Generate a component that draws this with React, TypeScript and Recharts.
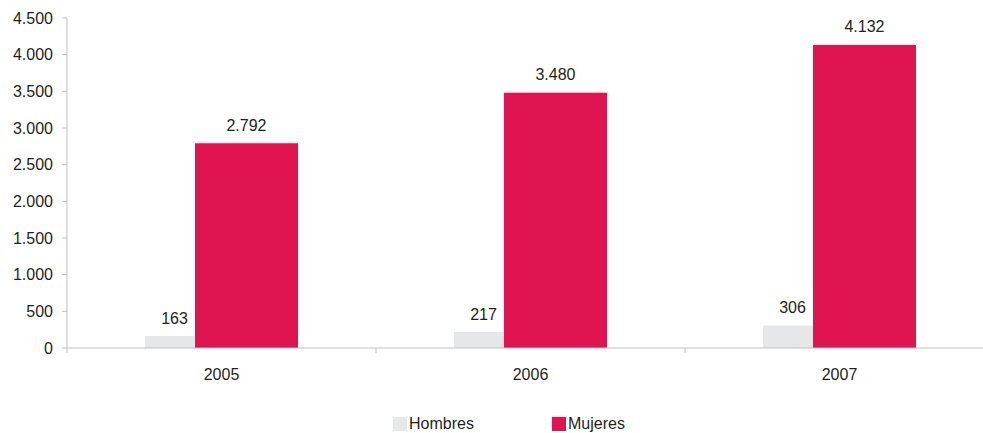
import { Bar, BarChart, LabelList, Legend, XAxis, YAxis } from "recharts";

const years = ["2005", "2006", "2007"];
const hombres = [163, 217, 306];
const mujeres = [2792, 3480, 4132];
const yTicks = [0, 500, 1000, 1500, 2000, 2500, 3000, 3500, 4000, 4500];

const COLORS = { hombres: "#E6E7E8", mujeres: "#E01450" };
const AXIS = "#BFBFBF";
const TEXT = "#231F20";
const FONT = "'Liberation Sans', Arial, sans-serif";

const data = years.map((year, i) => ({ year, Hombres: hombres[i], Mujeres: mujeres[i] }));

const fmt = (v: number) => String(v).replace(/\B(?=(\d{3})+(?!\d))/g, ".");

// x ticks sit on the category boundaries, labels in the middle
const YearTick = (props: any) => {
    const { x, y, payload } = props;
    const half = payload && payload.offset ? payload.offset : 0;
    const axisY = y - 26;
    return (
        <g>
            <line x1={x - half} x2={x - half} y1={axisY} y2={axisY + 5} stroke={AXIS} />
            <text x={x} y={y} textAnchor="middle" dominantBaseline="central" fill={TEXT} fontSize={16} fontFamily={FONT}>
                {payload.value}
            </text>
        </g>
    );
};

const hombresLabel = (props: any) => {
    const { x, y, width, value } = props;
    return (
        <text x={x + width / 2 - 22} y={y - 18} textAnchor="middle" dominantBaseline="central" fill={TEXT} fontSize={16} fontFamily={FONT}>
            {fmt(value)}
        </text>
    );
};

const mujeresLabel = (props: any) => {
    const { x, y, width, value } = props;
    return (
        <text x={x + width / 2} y={y - 18} textAnchor="middle" dominantBaseline="central" fill={TEXT} fontSize={16} fontFamily={FONT}>
            {fmt(value)}
        </text>
    );
};

const LegendBox = () => (
    <div style={{ position: "relative", height: 18, fontFamily: FONT, fontSize: 16, color: TEXT }}>
        {[
            { name: "Hombres", color: COLORS.hombres, left: 393 },
            { name: "Mujeres", color: COLORS.mujeres, left: 552 },
        ].map((item) => (
            <div key={item.name} style={{ position: "absolute", left: item.left, top: 0, display: "flex", alignItems: "center" }}>
                <span style={{ display: "inline-block", width: 14, height: 14, background: item.color, marginRight: 2 }} />
                <span style={{ lineHeight: "18px" }}>{item.name}</span>
            </div>
        ))}
    </div>
);

const App = () => {
    return (
        <div style={{ width: 983, height: 433, overflow: "hidden" }}>
            <style>{`body{margin:0}`}</style>
            <BarChart
                width={994}
                height={433}
                data={data}
                margin={{ top: 18, right: 0, left: 0, bottom: 0 }}
                barSize={103}
                barGap={-53}
            >
                <XAxis
                    dataKey="year"
                    height={67}
                    stroke={AXIS}
                    tickLine={false}
                    tickSize={0}
                    tickMargin={26}
                    tick={<YearTick />}
                />
                <YAxis
                    width={67}
                    domain={[0, 4500]}
                    ticks={yTicks}
                    interval={0}
                    stroke={AXIS}
                    tickSize={5}
                    tickMargin={9}
                    tickFormatter={fmt}
                    tick={{ fill: TEXT, fontSize: 16, fontFamily: FONT }}
                />
                <Legend verticalAlign="bottom" content={<LegendBox />} wrapperStyle={{ left: 0, width: 994 }} />
                <Bar dataKey="Hombres" fill={COLORS.hombres} isAnimationActive={false}>
                    <LabelList dataKey="Hombres" content={hombresLabel} />
                </Bar>
                <Bar dataKey="Mujeres" fill={COLORS.mujeres} isAnimationActive={false}>
                    <LabelList dataKey="Mujeres" content={mujeresLabel} />
                </Bar>
            </BarChart>
        </div>
    );
};

export default App;
